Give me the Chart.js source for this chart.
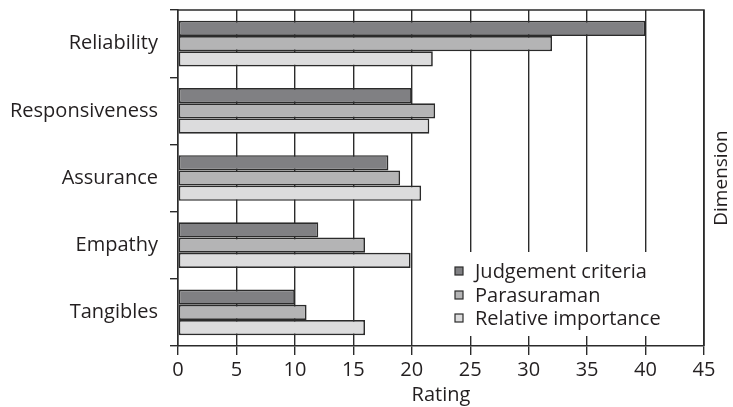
<!DOCTYPE html>
<html><head><meta charset="utf-8">
<script src="https://cdn.jsdelivr.net/npm/chart.js@4/dist/chart.umd.min.js"></script>
<style>html,body{margin:0;padding:0;background:#fff}#wrap{width:733px;height:407px;position:relative}</style>
</head><body><div id="wrap"><canvas id="c" width="733" height="407"></canvas></div>
<script>
const categories = ['Reliability', 'Responsiveness', 'Assurance', 'Empathy', 'Tangibles'];
const judgementCriteria = [40, 20, 18, 12, 10];
const parasuraman = [32, 22, 19, 16, 11];
const relativeImportance = [21.8, 21.5, 20.8, 19.9, 16];
const xTickValues = [0, 5, 10, 15, 20, 25, 30, 35, 40, 45];
const seriesNames = ['Judgement criteria', 'Parasuraman', 'Relative importance'];
const seriesColors = ['#808083', '#b4b4b5', '#dcdcdd'];
const xTitle = 'Rating';
const yTitle = 'Dimension';

const FONT = 'Open Sans';
const TXT = '#231f20';
const LINE = '#2b2b2b';

const extras = {
  id: 'extras',
  afterDatasetsDraw(chart) {
    const ctx = chart.ctx, a = chart.chartArea;
    ctx.save();
    ctx.fillStyle = '#fff';
    ctx.fillRect(447, 252, a.right - 447 - 1, 84);
    ctx.font = '20px "' + FONT + '"';
    ctx.textBaseline = 'middle';
    const rows = [271, 295, 318];
    chart.data.datasets.forEach((ds, i) => {
      ctx.fillStyle = ds.backgroundColor;
      ctx.fillRect(455, rows[i] - 4, 8, 8);
      ctx.strokeStyle = LINE; ctx.lineWidth = 1.2;
      ctx.strokeRect(455, rows[i] - 4, 8, 8);
      ctx.fillStyle = TXT;
      ctx.fillText(ds.label, 475, rows[i] + 1);
    });
    ctx.restore();
  },
  afterDraw(chart) {
    const ctx = chart.ctx, a = chart.chartArea;
    ctx.save();
    ctx.strokeStyle = LINE; ctx.lineWidth = 1.5;
    ctx.beginPath();
    ctx.moveTo(a.left, a.top); ctx.lineTo(a.right, a.top); ctx.lineTo(a.right, a.bottom);
    ctx.stroke();
    ctx.fillStyle = TXT;
    ctx.font = '19px "' + FONT + '"';
    ctx.textAlign = 'center'; ctx.textBaseline = 'middle';
    ctx.translate(722, 178);
    ctx.rotate(-Math.PI / 2);
    ctx.fillText(yTitle, 0, 0);
    ctx.restore();
  }
};

new Chart(document.getElementById('c'), {
  type: 'bar',
  data: {
    labels: categories,
    datasets: [
      { label: seriesNames[0], data: judgementCriteria, backgroundColor: seriesColors[0] },
      { label: seriesNames[1], data: parasuraman, backgroundColor: seriesColors[1] },
      { label: seriesNames[2], data: relativeImportance, backgroundColor: seriesColors[2] }
    ]
  },
  options: {
    indexAxis: 'y',
    responsive: false,
    animation: false,
    devicePixelRatio: 1,
    layout: { padding: { top: 10, right: 29, left: 0, bottom: 0 } },
    datasets: {
      bar: { barPercentage: 1.0, categoryPercentage: 0.68, borderColor: LINE, borderWidth: 1.7, borderSkipped: false }
    },
    plugins: { legend: { display: false }, tooltip: { enabled: false } },
    scales: {
      x: {
        type: 'linear', min: 0, max: 45,
        afterBuildTicks: s => { s.ticks = xTickValues.map(v => ({ value: v })); },
        afterFit: s => { s.height = 61; s.paddingLeft = 0; s.paddingRight = 0; },
        grid: { color: LINE, lineWidth: 1.4, tickLength: 9 },
        border: { color: LINE, width: 1.5 },
        ticks: { color: TXT, font: { family: FONT, size: 20 }, padding: 3 },
        title: { display: true, text: xTitle, color: TXT, font: { family: FONT, size: 20 }, padding: { top: 0, bottom: 0 } }
      },
      y: {
        afterFit: s => { s.width = 178; s.paddingTop = 0; s.paddingBottom = 0; },
        grid: { color: LINE, lineWidth: 1.4, drawOnChartArea: false, tickLength: 8, offset: true },
        border: { color: LINE, width: 1.5 },
        ticks: { color: TXT, font: { family: FONT, size: 20 }, padding: 12 }
      }
    }
  },
  plugins: [extras]
});
</script></body></html>
